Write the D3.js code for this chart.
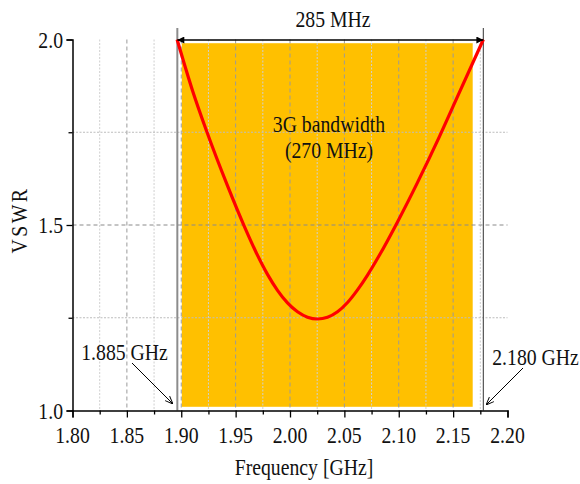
<!DOCTYPE html>
<html><head><meta charset="utf-8">
<script src="https://cdn.jsdelivr.net/npm/d3@7"></script>
<style>
html,body{margin:0;padding:0;background:#fff;}
svg text{font-family:"Liberation Serif","Times New Roman",serif;fill:#111;}
</style></head>
<body><svg id="c" width="580" height="484"></svg>
<script>
// ---- data ----
const freq = [1.8962, 1.9104, 1.9232, 1.9425, 1.9582, 1.9692, 1.9793, 1.9885, 1.9977, 2.0069, 2.0161, 2.0253, 2.0345, 2.0437, 2.0529, 2.0621, 2.0713, 2.0823, 2.0979, 2.1173, 2.1375, 2.1540, 2.1778];
const vswr = [2.000, 1.862, 1.754, 1.606, 1.495, 1.424, 1.367, 1.324, 1.290, 1.266, 1.2515, 1.2466, 1.2513, 1.266, 1.291, 1.325, 1.365, 1.419, 1.503, 1.615, 1.739, 1.846, 2.000];
const xTicks = [1.80, 1.85, 1.90, 1.95, 2.00, 2.05, 2.10, 2.15, 2.20];
const xMinor = [1.825, 1.875, 1.925, 1.975, 2.025, 2.075, 2.125, 2.175];
const yTicks = [1.0, 1.5, 2.0];
const yMinor = [1.25, 1.75];
const band = [1.9005, 2.168];       // 3G bandwidth (270 MHz)
const bandV = [1.01, 1.99];
const marks = [1.8964, 2.1778];     // 285 MHz span
const labels = {top: "285 MHz", band1: "3G bandwidth", band2: "(270 MHz)", left: "1.885 GHz", right: "2.180 GHz", xt: "Frequency [GHz]", yt: "VSWR"};

const svg = d3.select("#c");
const x = d3.scaleLinear().domain([1.80, 2.20]).range([72.5, 507.5]);
const y = d3.scaleLinear().domain([1.0, 2.0]).range([410.5, 39.5]);
const SX = 0.84, FS = 23.5;

function txt(s, px, py, anchor, rot) {
  const t = svg.append("text").text(s).attr("text-anchor", anchor || "middle")
    .style("font-size", FS + "px")
    .attr("transform", `translate(${px},${py})` + (rot ? ` rotate(${rot})` : "") + ` scale(${SX},1)`);
  return t;
}

// band
svg.append("rect").attr("x", x(band[0])).attr("width", x(band[1]) - x(band[0]))
  .attr("y", y(bandV[1])).attr("height", y(bandV[0]) - y(bandV[1])).attr("fill", "#FFC000");

// grid
const g = svg.append("g");
g.selectAll(".vmin").data(xMinor).join("line")
  .attr("x1", d => x(d)).attr("x2", d => x(d)).attr("y1", y(2.0)).attr("y2", y(1.0))
  .attr("stroke", "#cfcfcf").attr("stroke-width", 1).attr("stroke-dasharray", "2,1.5");
g.selectAll(".vmaj").data(xTicks.filter(d => d > 1.8 && d < 2.2)).join("line")
  .attr("x1", d => x(d)).attr("x2", d => x(d)).attr("y1", y(2.0)).attr("y2", y(1.0))
  .attr("stroke", "#9a9a9a").attr("stroke-width", 1).attr("stroke-dasharray", "4,3");
g.selectAll(".hmin").data(yMinor).join("line")
  .attr("x1", x(1.8)).attr("x2", x(2.2)).attr("y1", d => y(d)).attr("y2", d => y(d))
  .attr("stroke", "#bdbdbd").attr("stroke-width", 1).attr("stroke-dasharray", "2,1.5");
g.selectAll(".hmaj").data([1.5]).join("line")
  .attr("x1", x(1.8)).attr("x2", x(2.2)).attr("y1", d => y(d)).attr("y2", d => y(d))
  .attr("stroke", "#8a8a8a").attr("stroke-width", 1).attr("stroke-dasharray", "4,3");

// marker vertical lines
svg.append("line").attr("x1", x(marks[0])).attr("x2", x(marks[0])).attr("y1", 28).attr("y2", y(1.0))
  .attr("stroke", "#8c8c8c").attr("stroke-width", 2);
svg.append("line").attr("x1", x(marks[1])).attr("x2", x(marks[1])).attr("y1", 28).attr("y2", y(1.0))
  .attr("stroke", "#555").attr("stroke-width", 1.2);

// axes
svg.append("g").attr("transform", `translate(0,${y(1.0)})`)
  .call(d3.axisBottom(x).tickValues(xTicks).tickFormat(d3.format(".2f")).tickSize(7).tickPadding(6));
svg.append("g").attr("transform", `translate(0,${y(1.0)})`)
  .call(d3.axisBottom(x).tickValues(xMinor).tickFormat("").tickSize(4))
  .call(a => a.select(".domain").remove());
svg.append("g").attr("transform", `translate(${x(1.8)},0)`)
  .call(d3.axisLeft(y).tickValues(yTicks).tickFormat(d3.format(".1f")).tickSize(6).tickPadding(5));
svg.append("g").attr("transform", `translate(${x(1.8)},0)`)
  .call(d3.axisLeft(y).tickValues(yMinor).tickFormat("").tickSize(4))
  .call(a => a.select(".domain").remove());
svg.selectAll(".domain").attr("stroke", "#000").attr("stroke-width", 1.5);
svg.selectAll(".tick line").attr("stroke", "#000").attr("stroke-width", 1.3);
svg.selectAll(".tick text").remove();
xTicks.forEach(d => txt(d3.format(".2f")(d), x(d), 442.5, "middle"));
yTicks.forEach(d => txt(d3.format(".1f")(d), 63, y(d) + 8, "end"));

// curve
const pts = freq.map((f, i) => [f, vswr[i]]);
svg.append("path").datum(pts)
  .attr("d", d3.line().x(d => x(d[0])).y(d => y(d[1])).curve(d3.curveMonotoneX))
  .attr("fill", "none").attr("stroke", "#FF0000").attr("stroke-width", 3.2).attr("stroke-linejoin", "round");

// arrow markers
const defs = svg.append("defs");
defs.append("marker").attr("id", "ah").attr("viewBox", "0 0 10 10").attr("refX", 10).attr("refY", 5)
  .attr("markerWidth", 9).attr("markerHeight", 7).attr("markerUnits", "userSpaceOnUse").attr("orient", "auto-start-reverse")
  .append("path").attr("d", "M0,0 L10,5 L0,10 Z").attr("fill", "#000");
defs.append("marker").attr("id", "oh").attr("viewBox", "0 0 10 10").attr("refX", 10).attr("refY", 5)
  .attr("markerWidth", 8).attr("markerHeight", 8).attr("markerUnits", "userSpaceOnUse").attr("orient", "auto")
  .append("path").attr("d", "M0,1 L10,5 L0,9").attr("fill", "none").attr("stroke", "#000").attr("stroke-width", 1.2);

svg.append("line").attr("x1", x(marks[0])).attr("x2", x(marks[1])).attr("y1", 40).attr("y2", 40)
  .attr("stroke", "#000").attr("stroke-width", 1.6)
  .attr("marker-start", "url(#ah)").attr("marker-end", "url(#ah)");

// annotation arrows
svg.append("line").attr("x1", 132).attr("y1", 363).attr("x2", 173).attr("y2", 404)
  .attr("stroke", "#000").attr("stroke-width", 1).attr("marker-end", "url(#oh)");
svg.append("line").attr("x1", 523).attr("y1", 368).attr("x2", 486).attr("y2", 405)
  .attr("stroke", "#000").attr("stroke-width", 1).attr("marker-end", "url(#oh)");

// texts
txt(labels.top, 333, 26.5, "middle");
txt(labels.band1, 329, 131.5, "middle");
txt(labels.band2, 329, 158, "middle");
txt(labels.left, 124.5, 360, "middle");
txt(labels.right, 535.5, 365, "middle");
txt(labels.xt, 304, 475, "middle");
txt(labels.yt, 27, 220, "middle", -90).style("letter-spacing", "3px");
</script></body></html>
